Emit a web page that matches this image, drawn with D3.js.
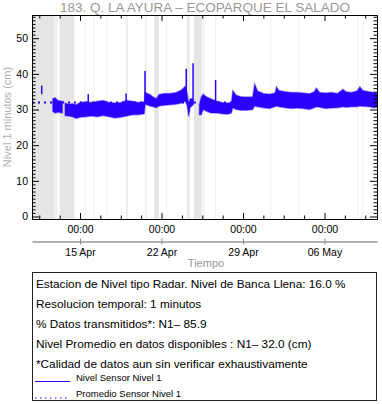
<!DOCTYPE html>
<html>
<head>
<meta charset="utf-8">
<script src="https://cdn.jsdelivr.net/npm/d3@7"></script>
<style>
  body { margin: 0; background: #fff; }
  text { font-family: "Liberation Sans", Arial, sans-serif; }
</style>
</head>
<body>
<svg id="chart"></svg>
<script>
// level readings (envelope of the 1-minute signal), times as month-day hour
const sampleTimes = [
    "04-12 15:40", "04-12 20:30", "04-13 02:30", "04-13 11:50", "04-13 14:00", "04-13 17:00",
    "04-14 00:00", "04-14 08:30", "04-14 16:00", "04-15 00:00", "04-15 12:00", "04-16 00:00",
    "04-16 12:00", "04-17 00:00", "04-17 12:00", "04-18 00:00", "04-18 12:00", "04-19 00:00",
    "04-19 12:00", "04-20 00:00", "04-20 12:30", "04-20 14:30", "04-21 00:00", "04-21 07:00",
    "04-21 13:00", "04-21 19:00", "04-22 06:00", "04-22 18:00", "04-23 06:00", "04-23 17:00",
    "04-24 01:00", "04-24 05:00", "04-24 08:00", "04-24 11:00", "04-24 17:00", "04-24 18:00",
    "04-25 06:00", "04-25 10:00", "04-25 14:00", "04-25 21:00", "04-26 06:00", "04-26 14:00",
    "04-26 18:00", "04-27 05:00", "04-27 16:00", "04-28 00:00", "04-28 03:00", "04-28 10:00",
    "04-28 20:00", "04-29 09:00", "04-29 20:00", "04-30 00:00", "04-30 06:00", "04-30 18:00",
    "05-01 07:00", "05-01 18:00", "05-01 21:00", "05-02 02:00", "05-02 15:00", "05-03 03:00",
    "05-03 16:00", "05-04 04:00", "05-04 17:00", "05-05 03:00", "05-05 07:00", "05-05 14:00",
    "05-06 02:00", "05-06 15:00", "05-07 03:00", "05-07 14:00", "05-07 20:00", "05-08 08:00",
    "05-08 19:00", "05-09 01:00", "05-09 07:00", "05-09 20:00", "05-10 06:00", "05-10 12:15"
];
const levelHigh = [
    33.0, 33.3, 32.5, 32.3, null, 31.8,
    31.5, 31.6, 31.3, 32.0, 32.2, 32.0,
    32.3, 32.5, 32.0, 31.8, 32.0, 32.5,
    32.3, 32.0, 32.2, 34.8, 34.2, 33.5,
    33.0, 34.2, 34.5, 34.5, 34.8, 35.5,
    36.5, 34.5, 31.5, 33.0, 33.0, null,
    31.5, 33.5, 34.3, 33.5, 33.0, 32.5,
    32.3, 32.0, 31.8, 32.0, 35.3, 34.0,
    33.6, 33.5, 33.6, 37.2, 35.2, 34.5,
    34.3, 34.6, 36.4, 35.3, 35.0, 34.8,
    34.8, 34.6, 34.4, 35.0, 36.0, 34.8,
    34.6, 34.8, 34.5, 35.7, 35.0, 34.8,
    35.2, 36.4, 35.3, 35.0, 34.8, 34.6
];
const levelLow = [
    29.5, 29.0, 29.2, 29.0, null, 28.3,
    28.2, 28.0, 27.5, 27.8, 28.0, 28.2,
    28.0, 28.3, 28.0, 27.6, 27.8, 28.2,
    28.5, 28.5, 28.8, 31.5, 31.0, 30.8,
    30.5, 31.0, 31.2, 31.3, 31.5, 31.8,
    32.3, 31.0, 28.0, 30.5, 31.3, null,
    28.5, 28.5, 30.0, 29.5, 29.0, 29.0,
    29.0, 28.8, 28.7, 29.0, 30.5, 30.0,
    29.8, 29.8, 30.0, 31.0, 30.8, 30.5,
    30.3, 30.8, 31.0, 30.8, 30.5, 30.3,
    30.4, 30.3, 30.0, 30.5, 30.8, 30.6,
    30.3, 30.4, 30.5, 30.8, 30.6, 30.8,
    30.8, 31.0, 30.9, 30.8, 30.5, 30.6
];

// short spikes in the record
const spikeTimes = ["04-11 17:00", "04-15 17:00", "04-18 23:00", "04-20 14:00", "04-24 03:00", "04-24 17:00", "04-26 15:30"];
const spikeLow = [34.3, 31.0, 31.0, 31.5, 33.0, 31.3, 32.0];
const spikeHigh = [36.7, 34.3, 34.5, 40.8, 41.4, 43.0, 38.3];

// periods without transmission (shaded)
const gapStart = ["04-10 21:00", "04-12 19:00", "04-13 06:00", "04-15 09:30", "04-16 04:00", "04-17 07:00",
                  "04-18 22:30", "04-20 14:00", "04-21 09:00", "04-22 09:30", "04-24 04:00", "04-24 19:00",
                  "04-25 13:00", "04-26 14:30", "05-01 08:00", "05-03 18:00", "05-08 19:30", "05-09 06:30"];
const gapEnd = ["04-12 19:00", "04-13 01:30", "04-14 12:15", "04-15 11:00", "04-16 05:30", "04-17 08:30",
                "04-19 02:30", "04-20 17:30", "04-21 18:30", "04-22 11:00", "04-24 11:00", "04-25 11:00",
                "04-25 16:30", "04-26 16:00", "05-01 09:30", "05-03 19:30", "05-08 21:00", "05-09 08:00"];
const gapShade = ["#e5e5e5", "#eeeeee", "#e5e5e5", "#f1f1f1", "#f1f1f1", "#f1f1f1",
                  "#eeeeee", "#eeeeee", "#e6e6e6", "#f1f1f1", "#ebebeb", "#e5e5e5",
                  "#eeeeee", "#f1f1f1", "#f1f1f1", "#f1f1f1", "#f1f1f1", "#f1f1f1"];

const meanLevel = 32.0;
const yMajorTicks = [0, 10, 20, 30, 40, 50];
const dateTicks = ["04-15 00:00", "04-22 00:00", "04-29 00:00", "05-06 00:00"];

const infoLines = [
    "Estacion de Nivel tipo Radar. Nivel de Banca Llena: 16.0 %",
    "Resolucion temporal: 1 minutos",
    "% Datos transmitidos*: N1\u2013 85.9",
    "Nivel Promedio en datos disponibles : N1\u2013 32.0 (cm)",
    "*Calidad de datos aun sin verificar exhaustivamente"
];
const legendLabels = ["Nivel Sensor Nivel 1", "Promedio Sensor Nivel 1"];

const parse = d3.timeParse("%m-%d %H:%M");
const blue = "#2a00ff";

const svg = d3.select("#chart").attr("width", 382).attr("height", 404);

const plot = { left: 32, right: 377, top: 15, bottom: 219 };

const x = d3.scaleTime()
    .domain([parse("04-10 21:00"), parse("05-10 12:15")])
    .range([plot.left, plot.right]);
const y = d3.scaleLinear()
    .domain([-0.7, 56.5])
    .range([plot.bottom, plot.top]);

// shaded gaps
svg.append("g").selectAll("rect")
    .data(gapStart.map((s, i) => ({ s: parse(s), e: parse(gapEnd[i]), c: gapShade[i] })))
    .join("rect")
    .attr("x", d => x(d.s))
    .attr("y", plot.top)
    .attr("width", d => Math.max(1, x(d.e) - x(d.s)))
    .attr("height", plot.bottom - plot.top)
    .attr("fill", d => d.c);

// mean line
svg.append("line")
    .attr("x1", plot.left).attr("x2", plot.right)
    .attr("y1", y(meanLevel)).attr("y2", y(meanLevel))
    .attr("stroke", blue).attr("stroke-width", 2)
    .attr("stroke-dasharray", "2,4");

// level band
const samples = sampleTimes.map((t, i) => ({ t: parse(t), hi: levelHigh[i], lo: levelLow[i] }));
const band = d3.area()
    .defined(d => d.hi != null)
    .x(d => x(d.t))
    .y0(d => y(d.lo))
    .y1(d => y(d.hi));
svg.append("path")
    .datum(samples)
    .attr("d", band)
    .attr("fill", blue)
    .attr("stroke", blue)
    .attr("stroke-opacity", 0.4)
    .attr("stroke-width", 1.5);

svg.append("g").selectAll("line")
    .data(spikeTimes.map((t, i) => ({ t: parse(t), lo: spikeLow[i], hi: spikeHigh[i] })))
    .join("line")
    .attr("x1", d => x(d.t)).attr("x2", d => x(d.t))
    .attr("y1", d => y(d.lo)).attr("y2", d => y(d.hi))
    .attr("stroke", blue).attr("stroke-width", 1.5);

// axes (ticks pointing inwards on all four sides)
const yMinor = d3.range(0, 57).filter(v => v % 10 !== 0);
const xMajor = dateTicks.map(parse);
const xMinor = d3.range(-2, 18)
    .map(i => d3.timeHour.offset(xMajor[0], 42 * i))
    .filter(d => d >= x.domain()[0] && d <= x.domain()[1] && !xMajor.some(m => +m === +d));

function styleAxis(g) {
    g.selectAll("path, line").attr("stroke", "#000");
    g.selectAll("text").attr("fill", "#000").style("font-size", "10.5px");
}

svg.append("g").attr("transform", `translate(${plot.left},0)`)
    .call(d3.axisLeft(y).tickValues(yMajorTicks).tickSize(-7).tickSizeOuter(0).tickPadding(4))
    .call(styleAxis);
svg.append("g").attr("transform", `translate(${plot.left},0)`)
    .call(d3.axisLeft(y).tickValues(yMinor).tickSize(-3.5).tickSizeOuter(0).tickFormat(""))
    .call(styleAxis);
svg.append("g").attr("transform", `translate(${plot.right},0)`)
    .call(d3.axisRight(y).tickValues(yMajorTicks).tickSize(-7).tickSizeOuter(0).tickFormat(""))
    .call(styleAxis);
svg.append("g").attr("transform", `translate(${plot.right},0)`)
    .call(d3.axisRight(y).tickValues(yMinor).tickSize(-3.5).tickSizeOuter(0).tickFormat(""))
    .call(styleAxis);

svg.append("g").attr("transform", `translate(0,${plot.bottom})`)
    .call(d3.axisBottom(x).tickValues(xMajor).tickSize(-6).tickSizeOuter(0).tickPadding(6.5)
        .tickFormat(d3.timeFormat("%H:%M")))
    .call(styleAxis);
svg.append("g").attr("transform", `translate(0,${plot.bottom})`)
    .call(d3.axisBottom(x).tickValues(xMinor).tickSize(-3.5).tickSizeOuter(0).tickFormat(""))
    .call(styleAxis);
svg.append("g").attr("transform", `translate(0,${plot.top})`)
    .call(d3.axisTop(x).tickValues(xMajor).tickSize(-6).tickSizeOuter(0).tickFormat(""))
    .call(styleAxis);
svg.append("g").attr("transform", `translate(0,${plot.top})`)
    .call(d3.axisTop(x).tickValues(xMinor).tickSize(-3.5).tickSizeOuter(0).tickFormat(""))
    .call(styleAxis);

// date row under the hours
const dateAxis = svg.append("g").attr("transform", "translate(0,241.5)")
    .call(d3.axisBottom(x).tickValues(xMajor).tickSize(3).tickSizeOuter(0).tickPadding(4)
        .tickFormat(d3.timeFormat("%d %b")));
dateAxis.select(".domain").attr("stroke", "#999").attr("stroke-width", 1.5);
dateAxis.selectAll(".tick line").attr("stroke", "#888").attr("y1", -3);
dateAxis.selectAll("text").attr("fill", "#000").style("font-size", "10.5px");

// titles
svg.append("text")
    .attr("x", 205).attr("y", 12)
    .attr("text-anchor", "middle")
    .attr("fill", "#999")
    .style("font-size", "13.5px")
    .text("183. Q. LA AYURA \u2013 ECOPARQUE EL SALADO");

svg.append("text")
    .attr("x", 206).attr("y", 267)
    .attr("text-anchor", "middle")
    .attr("fill", "#999")
    .style("font-size", "11px")
    .text("Tiempo");

svg.append("text")
    .attr("transform", `translate(11,${(plot.top + plot.bottom) / 2}) rotate(-90)`)
    .attr("text-anchor", "middle")
    .attr("fill", "#b0b0b0")
    .style("font-size", "11px")
    .text("Nivel 1 minutos (cm)");

// info box
const box = svg.append("g");
box.append("rect")
    .attr("x", 32.5).attr("y", 272.5)
    .attr("width", 344).attr("height", 128)
    .attr("fill", "none").attr("stroke", "#222");

box.selectAll("text.info")
    .data(infoLines)
    .join("text")
    .attr("class", "info")
    .attr("x", 36)
    .attr("y", (d, i) => 287.5 + i * 20)
    .attr("fill", "#000")
    .style("font-size", "11.8px")
    .text(d => d);

const legendRows = [
    { label: legendLabels[0], dash: null, width: 1, yy: 381.5, ty: 380.5 },
    { label: legendLabels[1], dash: "1.5,3.5", width: 1.2, yy: 398, ty: 397 }
];
legendRows.forEach(r => {
    box.append("line")
        .attr("x1", 35).attr("x2", 70)
        .attr("y1", r.yy).attr("y2", r.yy)
        .attr("stroke", blue).attr("stroke-width", r.width)
        .attr("stroke-dasharray", r.dash);
    box.append("text")
        .attr("x", 76).attr("y", r.ty)
        .attr("fill", "#000")
        .style("font-size", "9.5px")
        .text(r.label);
});
</script>
</body>
</html>
